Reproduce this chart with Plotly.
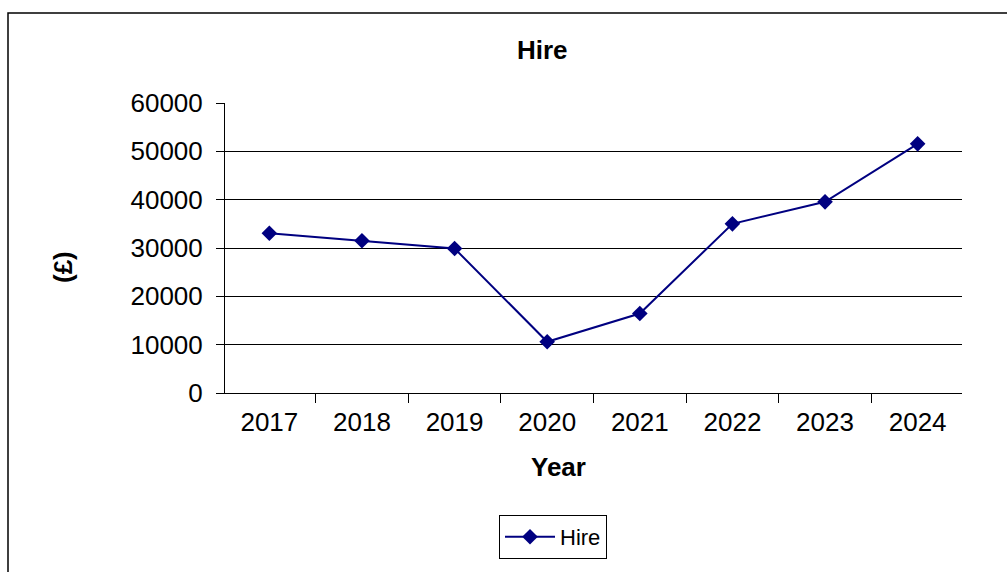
import plotly.graph_objects as go

years = ["2017", "2018", "2019", "2020", "2021", "2022", "2023", "2024"]
hire = [33050, 31500, 29900, 10600, 16450, 35000, 39550, 51550]
y_ticks = [0, 10000, 20000, 30000, 40000, 50000, 60000]
y_tick_labels = ["0", "10000", "20000", "30000", "40000", "50000", "60000"]

W, H = 1007, 572
L, R, T, B = 225, 45, 103, 179
PW, PH = W - L - R, H - T - B


def px(x):
    return (x - L) / PW


def py(y):
    return (H - B - y) / PH


FONT = "Liberation Sans, Arial, sans-serif"
NAVY = "#000080"

fig = go.Figure()
fig.add_trace(go.Scatter(
    x=years, y=hire, name="Hire", mode="lines+markers",
    line=dict(color=NAVY, width=2),
    marker=dict(symbol="diamond", size=12, color=NAVY),
))


def label(text, x, y, angle=0):
    return dict(text=text, x=px(x), y=py(y), xref="paper", yref="paper",
                xanchor="center", yanchor="middle", showarrow=False,
                textangle=angle, font=dict(size=26))


fig.update_layout(
    width=W, height=H,
    margin=dict(l=L, r=R, t=T, b=B),
    paper_bgcolor="white", plot_bgcolor="white",
    font=dict(family=FONT, size=26, color="black"),
    showlegend=True,
    legend=dict(
        x=px(553), y=py(537), xanchor="center", yanchor="middle",
        bordercolor="black", borderwidth=1, bgcolor="white",
        font=dict(size=22), itemwidth=50,
    ),
    xaxis=dict(
        type="category", tickson="boundaries", ticks="outside",
        ticklen=9, tickcolor="black", showline=True, linecolor="black",
        showgrid=False, tickfont=dict(size=26), ticklabelstandoff=6,
    ),
    yaxis=dict(
        range=[0, 60000], tickvals=y_ticks, ticktext=y_tick_labels,
        ticks="outside", ticklen=8,
        tickcolor="black", showline=True, linecolor="black",
        showgrid=True, gridcolor="black", gridwidth=1,
        tickfont=dict(size=26), ticklabelstandoff=8, zeroline=False,
    ),
    annotations=[
        label("<b>Hire</b>", 542, 50),
        label("<b>Year</b>", 558, 467),
        label("<b>(£)</b>", 63, 267, -90),
    ],
    shapes=[
        dict(type="rect", xref="paper", yref="paper",
             x0=px(8), y0=py(13), x1=px(1020), y1=py(590),
             line=dict(color="black", width=1.5)),
    ],
)

fig.write_html("out.html")
